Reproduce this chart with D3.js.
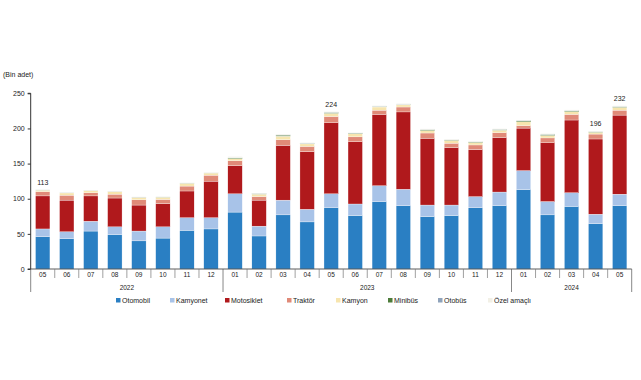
<!DOCTYPE html>
<html><head><meta charset="utf-8">
<script src="https://cdn.jsdelivr.net/npm/d3@7"></script>
<style>body{margin:0;background:#fff}svg{font-family:"Liberation Sans",Arial,sans-serif}</style>
</head><body>
<script>
const months = ["05","06","07","08","09","10","11","12","01","02","03","04","05","06","07","08","09","10","11","12","01","02","03","04","05"];
const years = [{label:"2022",start:0,end:8},{label:"2023",start:8,end:20},{label:"2024",start:20,end:25}];
const seriesNames = ["Otomobil","Kamyonet","Motosiklet","Traktör","Kamyon","Minibüs","Otobüs","Özel amaçlı"];
const colors = ["#2a7fc3","#a8c3e8","#b0191c","#e08a78","#f7e5ae","#4d7c3a","#8fa3bb","#f2f0e6"];
const otomobil   = [46,43,54,49,40,44,55,57,81,47,77,67,87,76,96,90,74.5,76,87,90,113,77,89,64.5,90];
const kamyonet   = [11,10,14,11,14,16,18,16,26,14,21,18,20,16.5,22.5,23.5,16.5,15,16,19.5,27,19,19.5,13.5,16.5];
const motosiklet = [47,45,36,41,37,33,38,52,40,37,78,82,101,88.5,101.5,110,95,81.5,67,77.5,60.5,83.5,103.5,107,112.5];
const traktor    = [6,7,4.5,5.5,7.5,6,7,8.5,7,5,8,7.5,9,7,6,7,7.5,6.5,6.5,7,3.5,7,8,7,7];
const kamyon     = [2.2,3.2,3,3.5,3.5,3.2,4,3,3,3.5,5,3.5,4.5,4.5,4.5,3,3.5,4,3.5,3.5,5.5,3.5,4,2.5,4];
const minibus    = [0.3,0.3,0.3,0.3,0.3,0.3,0.3,0.3,1,0.8,1.5,0.8,1.3,0.8,0.8,0.6,1.2,0.7,0.8,1,1.5,1.5,1.2,0.8,1];
const otobus     = [0.2,0.2,0.2,0.2,0.2,0.2,0.2,0.2,0.5,0.3,0.5,0.4,0.4,0.4,0.4,0.4,0.4,0.4,0.4,0.4,0.5,0.4,0.4,0.3,0.4];
const ozel       = [0.3,0.3,0.3,0.3,0.3,0.3,0.5,0.5,1.5,0.5,1,0.8,0.8,0.8,0.8,1,0.8,0.8,0.8,0.8,0.5,0.8,0.8,0.6,0.8];
const valueLabels = [{i:0,text:"113"},{i:12,text:"224"},{i:23,text:"196"},{i:24,text:"232"}];
const yTicks = [0,50,100,150,200,250];

const seriesVals = [otomobil,kamyonet,motosiklet,traktor,kamyon,minibus,otobus,ozel];
const table = months.map((m,i)=>{const o={idx:i}; seriesNames.forEach((s,k)=>o[s]=seriesVals[k][i]); return o;});

const W=641,H=380;
const svg=d3.select("body").append("svg").attr("width",W).attr("height",H);
const x=d3.scaleBand().domain(d3.range(months.length)).range([30.7,631.7]).paddingInner(0.4).paddingOuter(0.2);
const y=d3.scaleLinear().domain([0,250]).range([269,93.3]);

const stack=d3.stack().keys(seriesNames)(table);
svg.append("g").selectAll("g").data(stack).join("g").attr("fill",(d,k)=>colors[k])
  .selectAll("rect").data(d=>d).join("rect")
  .attr("x",d=>x(d.data.idx)).attr("width",x.bandwidth())
  .attr("y",d=>y(d[1])).attr("height",d=>Math.max(0,y(d[0])-y(d[1])))
  .attr("stroke","#fff").attr("stroke-width",0.3);

// y axis
const ya=svg.append("g").attr("transform","translate(30.7,0)")
  .call(d3.axisLeft(y).tickValues(yTicks).tickSize(3).tickPadding(3));
ya.select(".domain").attr("stroke","#333").attr("d","M-3,93.3H0V269H-3");
ya.selectAll(".tick line").attr("stroke","#333");
ya.selectAll("text").attr("font-size",7).attr("fill","#222");
svg.append("text").attr("x",3).attr("y",77).attr("font-size",7).attr("fill","#222").text("(Bin adet)");

// x axis
const xa=svg.append("g");
xa.append("line").attr("x1",30.7).attr("x2",631.7).attr("y1",269).attr("y2",269).attr("stroke","#333").attr("stroke-width",0.8);
const step=x.step();
const sepX=d3.range(months.length+1).map(i=>30.7+i*step);
const yearBounds=new Set(years.flatMap(yr=>[yr.start,yr.end]));
xa.selectAll("line.sep").data(d3.range(months.length+1)).join("line")
  .attr("x1",i=>sepX[i]).attr("x2",i=>sepX[i]).attr("y1",269)
  .attr("y2",i=>yearBounds.has(i)?292:278)
  .attr("stroke",i=>yearBounds.has(i)?"#555":"#777").attr("stroke-width",0.7);
xa.selectAll("text.m").data(months).join("text")
  .attr("x",(d,i)=>x(i)+x.bandwidth()/2).attr("y",277).attr("text-anchor","middle")
  .attr("font-size",6.5).attr("fill","#222").text(d=>d);
xa.selectAll("text.yr").data(years).join("text")
  .attr("x",d=>(sepX[d.start]+sepX[d.end])/2).attr("y",290).attr("text-anchor","middle")
  .attr("font-size",6.5).attr("fill","#222").text(d=>d.label);

// value labels
svg.selectAll("text.v").data(valueLabels).join("text")
  .attr("x",d=>x(d.i)+x.bandwidth()/2)
  .attr("y",d=>y(d3.sum(seriesVals,s=>s[d.i]))-5).attr("text-anchor","middle")
  .attr("font-size",7).attr("fill","#222").text(d=>d.text);

// legend
const legX=[116,170,225,287,336,388,438,488];
const lg=svg.append("g").selectAll("g").data(seriesNames).join("g")
  .attr("transform",(d,i)=>`translate(${legX[i]},303)`);
lg.append("rect").attr("x",0).attr("y",-5).attr("width",4.5).attr("height",4.5).attr("fill",(d,i)=>colors[i]);
lg.append("text").attr("x",6).attr("y",0).attr("font-size",7).attr("fill","#222").text(d=>d);
</script>
</body></html>
